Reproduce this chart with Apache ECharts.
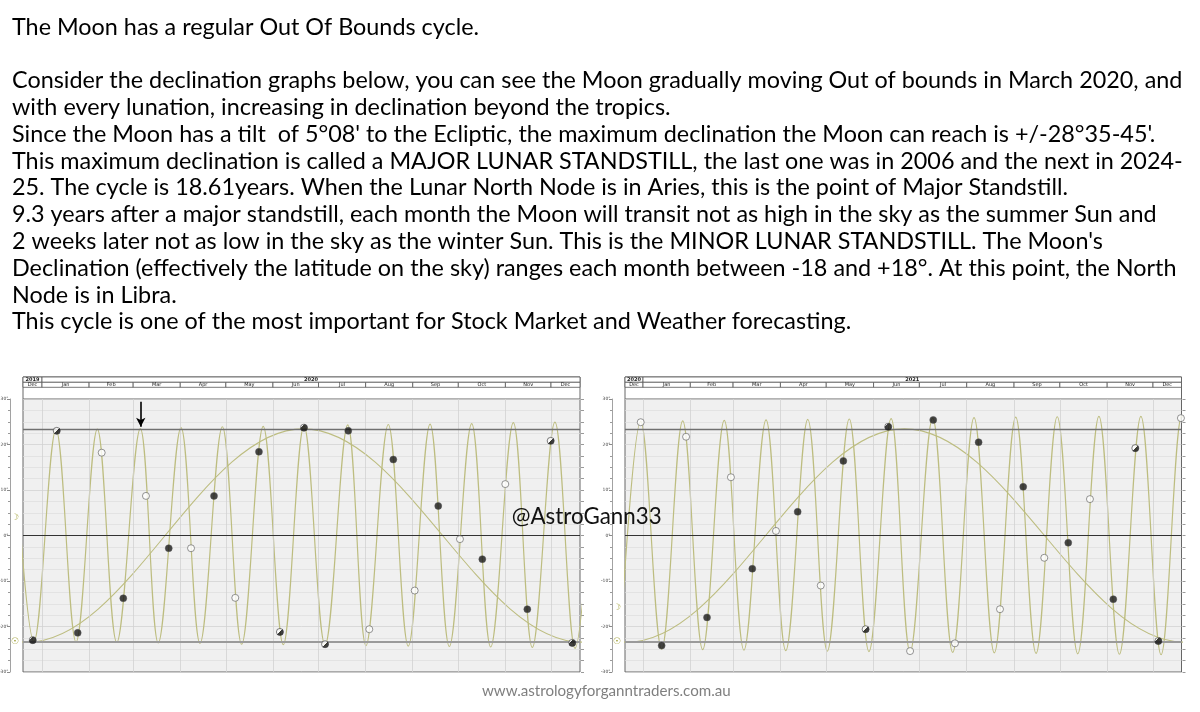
<!DOCTYPE html>
<html>
<head>
<meta charset="utf-8">
<title>Moon Out Of Bounds</title>
<script src="https://cdn.jsdelivr.net/npm/echarts@6.0.0/dist/echarts.min.js"></script>
<style>
html, body { margin: 0; padding: 0; background: #fff; }
#main { width: 1200px; height: 712px; }
</style>
</head>
<body>
<div id="main"></div>
<script>
// 正文
const introLines = [
  "The Moon has a regular Out Of Bounds cycle.",
  "",
  "Consider the declination graphs below, you can see the Moon gradually moving Out of bounds in March 2020, and",
  "with every lunation, increasing in declination beyond the tropics.",
  "Since the Moon has a tilt  of 5°08' to the Ecliptic, the maximum declination the Moon can reach is +/-28°35-45'.",
  "This maximum declination is called a MAJOR LUNAR STANDSTILL, the last one was in 2006 and the next in 2024-",
  "25. The cycle is 18.61years. When the Lunar North Node is in Aries, this is the point of Major Standstill.",
  "9.3 years after a major standstill, each month the Moon will transit not as high in the sky as the summer Sun and",
  "2 weeks later not as low in the sky as the winter Sun. This is the MINOR LUNAR STANDSTILL. The Moon's",
  "Declination (effectively the latitude on the sky) ranges each month between -18 and +18°. At this point, the North",
  "Node is in Libra.",
  "This cycle is one of the most important for Stock Market and Weather forecasting."
];
const watermark = "@AstroGann33";
const footer = "www.astrologyforganntraders.com.au";

// 月份 / 年份表头
const monthNames = ["Dec", "Jan", "Feb", "Mar", "Apr", "May", "Jun", "Jul", "Aug", "Sep", "Oct", "Nov", "Dec"];
const leftMonthEdges = ["2019-12-19 12:00", "2020-01-01", "2020-02-01", "2020-03-01", "2020-04-01", "2020-05-01",
  "2020-06-01", "2020-07-01", "2020-08-01", "2020-09-01", "2020-10-01", "2020-11-01", "2020-12-01", "2020-12-20 02:00"];
const rightMonthEdges = ["2020-12-20 05:00", "2021-01-01", "2021-02-01", "2021-03-01", "2021-04-01", "2021-05-01",
  "2021-06-01", "2021-07-01", "2021-08-01", "2021-09-01", "2021-10-01", "2021-11-01", "2021-12-01", "2021-12-19 16:00"];
const leftYears = ["2019", "2020"];
const leftYearEdges = ["2019-12-19 12:00", "2020-01-01", "2020-12-20 02:00"];
const rightYears = ["2020", "2021"];
const rightYearEdges = ["2020-12-20 05:00", "2021-01-01", "2021-12-19 16:00"];

// 月亮赤纬极值 (峰/谷)
const leftMoon = [
  ["2019-12-13 05:00", 23.3], ["2019-12-26 17:00", -23.3], ["2020-01-10 05:00", 23.3], ["2020-01-23 10:00", -23.4],
  ["2020-02-06 10:00", 23.4], ["2020-02-19 05:00", -23.5], ["2020-03-05 17:00", 23.5], ["2020-03-17 12:00", -23.6],
  ["2020-04-01 12:00", 23.7], ["2020-04-14 00:00", -23.7], ["2020-04-28 17:00", 23.9], ["2020-05-11 10:00", -23.9],
  ["2020-05-25 14:00", 24.0], ["2020-06-07 19:00", -24.0], ["2020-06-21 10:00", 24.1], ["2020-07-05 07:00", -24.1],
  ["2020-07-20 05:00", 24.3], ["2020-08-01 05:00", -24.2], ["2020-08-15 22:00", 24.4], ["2020-08-29 02:00", -24.3],
  ["2020-09-12 10:00", 24.5], ["2020-09-25 02:00", -24.4], ["2020-10-09 19:00", 24.6], ["2020-10-22 07:00", -24.5],
  ["2020-11-06 05:00", 24.8], ["2020-11-18 17:00", -24.6], ["2020-12-03 14:00", 24.9], ["2020-12-16 19:00", -24.8],
  ["2020-12-30 12:00", 25.1]
];
const rightMoon = [
  ["2020-12-16 19:00", -24.8], ["2020-12-30 12:00", 25.1], ["2021-01-13 05:00", -25.0], ["2021-01-27 00:00", 25.2],
  ["2021-02-09 02:00", -25.1], ["2021-02-23 05:00", 25.3], ["2021-03-08 02:00", -25.2], ["2021-03-22 14:00", 25.4],
  ["2021-04-04 12:00", -25.3], ["2021-04-18 22:00", 25.5], ["2021-05-01 17:00", -25.4], ["2021-05-16 02:00", 25.6],
  ["2021-05-29 00:00", -25.5], ["2021-06-12 12:00", 25.7], ["2021-06-24 22:00", -25.6], ["2021-07-09 17:00", 25.8],
  ["2021-07-22 19:00", -25.7], ["2021-08-05 19:00", 25.9], ["2021-08-19 02:00", -25.8], ["2021-09-02 02:00", 26.0],
  ["2021-09-15 10:00", -25.9], ["2021-09-29 07:00", 26.1], ["2021-10-12 17:00", -26.0], ["2021-10-26 14:00", 26.2],
  ["2021-11-09 00:00", -26.1], ["2021-11-23 02:00", 26.2], ["2021-12-06 07:00", -26.2], ["2021-12-19 19:00", 26.3],
  ["2022-01-02 05:00", -26.3]
];
// 太阳赤纬 (至点)
const sunTurns = [
  ["2019-06-21 16:00", 23.44], ["2019-12-22 04:00", -23.44], ["2020-06-20 22:00", 23.44], ["2020-12-21 10:00", -23.44],
  ["2021-06-21 04:00", 23.44], ["2021-12-21 16:00", -23.44], ["2022-06-21 09:00", 23.44]
];

// 朔望: [日期, 赤纬, N新月/F满月, 是否食]
const leftLunations = [
  ["2019-12-25 22:00", -23.0, "N", 1], ["2020-01-10 17:00", 23.0, "F", 1], ["2020-01-24 12:00", -21.4, "N", 0],
  ["2020-02-09 07:00", 18.2, "F", 0], ["2020-02-23 12:00", -13.8, "N", 0], ["2020-03-09 10:00", 8.7, "F", 0],
  ["2020-03-24 10:00", -2.8, "N", 0], ["2020-04-08 02:00", -2.8, "F", 0], ["2020-04-23 05:00", 8.7, "N", 0],
  ["2020-05-07 05:00", -13.7, "F", 0], ["2020-05-22 19:00", 18.4, "N", 0], ["2020-06-05 14:00", -21.2, "F", 1],
  ["2020-06-21 10:00", 23.7, "N", 1], ["2020-07-05 07:00", -23.9, "F", 1], ["2020-07-20 14:00", 23.0, "N", 0],
  ["2020-08-03 10:00", -20.6, "F", 0], ["2020-08-19 05:00", 16.7, "N", 0], ["2020-09-02 07:00", -12.1, "F", 0],
  ["2020-09-17 19:00", 6.5, "N", 0], ["2020-10-02 02:00", -0.8, "F", 0], ["2020-10-16 19:00", -5.2, "N", 0],
  ["2020-10-31 22:00", 11.3, "F", 0], ["2020-11-15 10:00", -16.2, "N", 0], ["2020-11-30 19:00", 20.8, "F", 1],
  ["2020-12-15 00:00", -23.6, "N", 1]
];
const rightLunations = [
  ["2020-12-30 12:00", 24.9, "F", 0], ["2021-01-13 05:00", -24.2, "N", 0], ["2021-01-29 05:00", 21.7, "F", 0],
  ["2021-02-11 22:00", -18.0, "N", 0], ["2021-02-27 14:00", 12.8, "F", 0], ["2021-03-13 14:00", -7.3, "N", 0],
  ["2021-03-29 02:00", 1.0, "F", 0], ["2021-04-12 07:00", 5.2, "N", 0], ["2021-04-27 10:00", -11.0, "F", 0],
  ["2021-05-12 05:00", 16.4, "N", 0], ["2021-05-26 19:00", -20.6, "F", 1], ["2021-06-10 14:00", 23.9, "N", 1],
  ["2021-06-24 22:00", -25.4, "F", 0], ["2021-07-10 02:00", 25.4, "N", 0], ["2021-07-24 07:00", -23.7, "F", 0],
  ["2021-08-08 19:00", 20.5, "N", 0], ["2021-08-22 19:00", -16.2, "F", 0], ["2021-09-07 00:00", 10.7, "N", 0],
  ["2021-09-20 19:00", -4.9, "F", 0], ["2021-10-06 12:00", -1.6, "N", 0], ["2021-10-20 17:00", 8.0, "F", 0],
  ["2021-11-05 00:00", -14.0, "N", 0], ["2021-11-19 10:00", 19.2, "F", 1], ["2021-12-04 12:00", -23.2, "N", 1],
  ["2021-12-19 07:00", 25.8, "F", 0]
];

const tropicLevels = [23.44, 0, -23.44];
const yTicks = [-30, -20, -10, 0, 10, 20, 30];
// 左边缘符号 [月亮, 太阳]
const leftEdgeGlyphs = [4.0, -23.4];
const rightEdgeGlyphs = [-15.9, -23.4];
// 左图箭头 (三月)
const arrowDate = "2020-03-06 00:00";
const arrowFromTo = [29.4, 23.9];

const olive = "#bdbd80";
const t = s => echarts.time.parse(s).getTime();

// 文字宽度适配
const measureCtx = document.createElement("canvas").getContext("2d");
function fitSize(text, family, width) {
  measureCtx.font = "100px " + family;
  return 100 * width / measureCtx.measureText(text).width;
}

function headerRows(monthEdges, yearEdges, years) {
  const rows = [], labels = [];
  years.forEach((y, i) => { rows.push([t(yearEdges[i]), t(yearEdges[i + 1]), 0, 5.3]); labels.push(y); });
  monthNames.forEach((m, i) => { rows.push([t(monthEdges[i]), t(monthEdges[i + 1]), 5.3, 10.3]); labels.push(m); });
  return { rows, labels, yearCount: years.length };
}

function drawHeader(h) {
  return function (params, api) {
    const p0 = api.coord([api.value(0), api.value(2)]);
    const p1 = api.coord([api.value(1), api.value(3)]);
    const isYear = params.dataIndex < h.yearCount;
    return {
      type: "group",
      children: [
        { type: "rect", shape: { x: p0[0], y: p0[1], width: p1[0] - p0[0], height: p1[1] - p0[1] },
          style: { fill: "#fff", stroke: "#555", lineWidth: 0.8 } },
        { type: "text", style: { text: h.labels[params.dataIndex], x: (p0[0] + p1[0]) / 2, y: (p0[1] + p1[1]) / 2 + 0.3,
          align: "center", verticalAlign: "middle", fontSize: 5, fontWeight: isYear ? "bold" : "normal",
          fontFamily: "DejaVu Sans", fill: "#222" } }
      ]
    };
  };
}

function lunationPoints(list) {
  return list.map(([d, v, kind, ecl]) => {
    let style;
    if (ecl) {
      const cut = kind === "F" ? 0.5 : 0.3;
      style = { color: { type: "linear", x: 0, y: 0, x2: 1, y2: 1, colorStops: [
        { offset: 0, color: "#fff" }, { offset: cut, color: "#fff" },
        { offset: cut, color: "#111" }, { offset: 1, color: "#111" }] },
        borderColor: "#333", borderWidth: 0.8 };
    } else if (kind === "N") {
      style = { color: "#161616", borderColor: "#555", borderWidth: 0.6 };
    } else {
      style = { color: "#fff", borderColor: "#6a6a6a", borderWidth: 0.9 };
    }
    return { value: [t(d), v], itemStyle: style };
  });
}

function degAxis(grid) {
  return {
    type: "value", gridIndex: grid, min: -30, max: 30, interval: 10, position: "left", offset: 13,
    axisLine: { show: true, lineStyle: { color: "#8a8a8a", width: 0.8 } },
    axisTick: { show: true, length: 3, lineStyle: { color: "#8a8a8a" } },
    minorTick: { show: true, splitNumber: 4, length: 2, lineStyle: { color: "#9a9a9a" } },
    axisLabel: { fontSize: 4.5, color: "#444", margin: 1.5, fontFamily: "DejaVu Sans",
      formatter: v => (yTicks.indexOf(v) >= 0 ? v + "°" : "") },
    splitLine: { show: true, lineStyle: { color: "#d3d3d3", width: 0.8 } },
    minorSplitLine: { show: true, lineStyle: { color: "#dcdcdc", width: 0.7 } }
  };
}
function tickAxis(grid) {
  return {
    type: "value", gridIndex: grid, min: -30, max: 30, interval: 2.5, position: "right", offset: 1,
    axisLine: { show: false }, axisTick: { show: true, length: 3, lineStyle: { color: "#9a9a9a" } },
    axisLabel: { show: false }, splitLine: { show: false }
  };
}
function timeAxis(grid, edges) {
  return {
    type: "time", gridIndex: grid, min: t(edges[0]), max: t(edges[edges.length - 1]),
    axisLine: { show: false }, axisTick: { show: false }, axisLabel: { show: false }, splitLine: { show: false }
  };
}

function guideLines(edges) {
  const verticals = edges.slice(1, -1).map(d => ({ xAxis: t(d), lineStyle: { color: "#d2d2d2", width: 0.8, type: "solid" } }));
  const horizontals = tropicLevels.map(v => ({
    yAxis: v,
    lineStyle: v === 0 ? { color: "#333", width: 1.2, type: "solid" }
      : v > 0 ? { color: "#707070", width: 1.4, type: "solid" } : { color: "#9a9a9a", width: 2, type: "solid" }
  }));
  return { silent: true, symbol: "none", label: { show: false }, data: verticals.concat(horizontals) };
}

function edgeGlyph(xStart, value, glyph) {
  return {
    silent: true, symbol: "circle", symbolSize: 0,
    label: { show: true, position: "left", distance: 4, color: "#9c9c30", fontSize: 9, fontFamily: "DejaVu Sans",
      formatter: glyph },
    data: [{ coord: [xStart, value] }]
  };
}

function buildSeries(side) {
  const L = side === 0;
  const edges = L ? leftMonthEdges : rightMonthEdges;
  const moon = L ? leftMoon : rightMoon;
  const glyphs = L ? leftEdgeGlyphs : rightEdgeGlyphs;
  const h = L ? headerRows(leftMonthEdges, leftYearEdges, leftYears) : headerRows(rightMonthEdges, rightYearEdges, rightYears);
  const xMain = L ? 0 : 2, xHead = L ? 1 : 3;
  const yMain = L ? 0 : 3, yHead = L ? 2 : 5;
  const start = t(edges[0]);
  const moonSeries = {
    type: "line", xAxisIndex: xMain, yAxisIndex: yMain, z: 3,
    data: moon.map(p => [t(p[0]), p[1]]), smooth: 0.3634, symbol: "none", silent: true,
    lineStyle: { color: olive, width: 1.2 },
    markPoint: edgeGlyph(start, glyphs[0], "☽")
  };
  if (L) {
    moonSeries.markLine = {
      silent: true, symbol: ["none", "arrow"], symbolSize: [7, 9], label: { show: false },
      lineStyle: { color: "#000", width: 1.6, type: "solid" },
      data: [[{ coord: [t(arrowDate), arrowFromTo[0]] }, { coord: [t(arrowDate), arrowFromTo[1]] }]]
    };
  }
  return [
    {
      type: "custom", xAxisIndex: xHead, yAxisIndex: yHead, silent: true, clip: false,
      renderItem: drawHeader(h), encode: { x: [0, 1], y: [2, 3] }, data: h.rows
    },
    {
      type: "line", xAxisIndex: xMain, yAxisIndex: yMain, z: 2,
      data: sunTurns.map(p => [t(p[0]), p[1]]), smooth: 0.3634, symbol: "none", silent: true,
      lineStyle: { color: olive, width: 1.1 },
      markLine: guideLines(edges),
      markPoint: edgeGlyph(start, glyphs[1], "☉")
    },
    moonSeries,
    {
      type: "scatter", xAxisIndex: xMain, yAxisIndex: yMain, z: 5, symbol: "circle", symbolSize: 7,
      silent: true, data: lunationPoints(L ? leftLunations : rightLunations)
    }
  ];
}

function makeGrid(left, top, width, height, bg) {
  // outerBoundsMode none: 不让 v6 为了标签而收缩网格
  return { left, top, width, height, show: true, backgroundColor: bg, borderColor: "#666", borderWidth: 1,
    containLabel: false, outerBoundsMode: "none" };
}

function initCharts() {
  const myChart = echarts.init(document.getElementById("main"));
  const bodyFont = "Lato, 'Open Sans', sans-serif";
  const bodySize = fitSize(introLines[2], bodyFont, 1171);
  const markSize = fitSize(watermark, bodyFont, 150);
  const footSize = fitSize(footer, bodyFont, 249);

  const texts = introLines.map((line, i) => ({
    type: "text", x: 12, y: 27 + 26.8 * i,
    style: { text: line, fontSize: bodySize, fontFamily: bodyFont, fill: "#000", verticalAlign: "middle" }
  }));
  texts.push({ type: "text", x: 511.7, y: 516.7, z: 100,
    style: { text: watermark, fontSize: markSize, fontFamily: bodyFont, fill: "#111", verticalAlign: "middle" } });
  texts.push({ type: "text", x: 606.3, y: 691,
    style: { text: footer, fontSize: footSize, fontFamily: bodyFont, fill: "#7f7f7f", align: "center", verticalAlign: "middle" } });

  const option = {
    animation: false,
    backgroundColor: "#fff",
    grid: [
      makeGrid(23, 399, 557, 273, "#f0f0f0"),
      makeGrid(23, 377, 557, 22, "#fff"),
      makeGrid(625, 399, 556.5, 273, "#f0f0f0"),
      makeGrid(625, 377, 556.5, 22, "#fff")
    ],
    xAxis: [timeAxis(0, leftMonthEdges), timeAxis(1, leftMonthEdges), timeAxis(2, rightMonthEdges), timeAxis(3, rightMonthEdges)],
    yAxis: [
      degAxis(0), tickAxis(0), { type: "value", gridIndex: 1, min: 0, max: 22, inverse: true, show: false },
      degAxis(2), tickAxis(2), { type: "value", gridIndex: 3, min: 0, max: 22, inverse: true, show: false }
    ],
    graphic: { elements: texts },
    series: buildSeries(0).concat(buildSeries(1))
  };
  myChart.setOption(option, true);
  window.addEventListener("resize", function () { myChart.resize(); });
}
initCharts();
</script>
</body>
</html>
